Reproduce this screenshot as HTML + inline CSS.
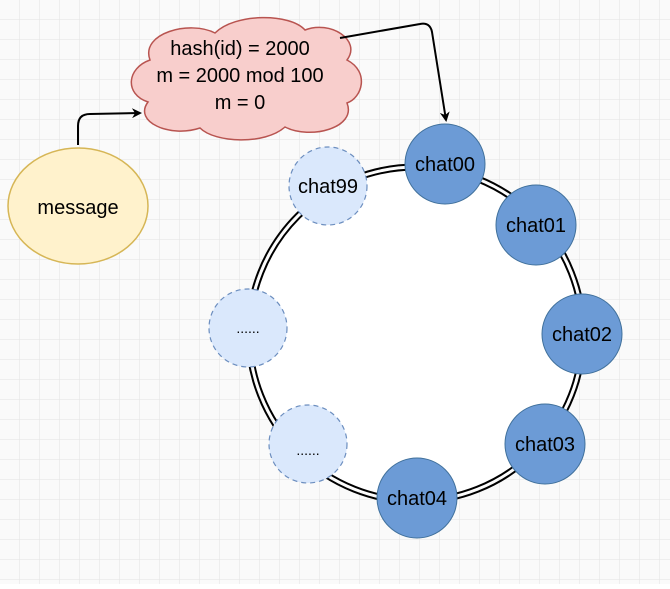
<!DOCTYPE html>
<html><head><style>
html,body{margin:0;padding:0;background:#fff}
svg text{font-family:"Comic Sans MS","Liberation Sans",sans-serif;fill:#000}
</style></head><body>
<svg width="670" height="584" viewBox="0 0 670 584" xmlns="http://www.w3.org/2000/svg">
<defs>
<pattern id="g" width="20" height="20" patternUnits="userSpaceOnUse">
<path d="M20 0V20M0 20H20" stroke="#e3e3e3" stroke-width="1" fill="none"/>
</pattern>
<marker id="a" markerWidth="10" markerHeight="10" refX="8" refY="5" orient="auto" markerUnits="userSpaceOnUse">
<path d="M0,0 L10,5 L0,10 L3,5 Z" fill="#000"/>
</marker>
</defs>
<rect width="670" height="584" fill="#fafafa"/>
<rect width="670" height="584" fill="url(#g)"/>
<!-- ring -->
<circle cx="416" cy="334" r="167" fill="#fff" stroke="none"/>
<circle cx="416" cy="334" r="164.5" fill="none" stroke="#000" stroke-width="2"/>
<circle cx="416" cy="334" r="169.5" fill="none" stroke="#000" stroke-width="2"/>
<!-- cloud -->
<path d="M150,60 C140,33 190,20 215,33 C235,13 290,13 305,30 C330,20 362,40 347,60 C370,72 362,98 347,103 C357,128 310,140 285,127 C265,145 215,143 200,128 C170,138 133,122 148,102 C124,94 127,68 150,60 Z" fill="#f8cecc" stroke="#b85450" stroke-width="1.5"/>
<text x="240" y="55" font-size="20" text-anchor="middle">hash(id) = 2000</text>
<text x="240" y="82" font-size="20" text-anchor="middle">m = 2000 mod 100</text>
<text x="240" y="109" font-size="20" text-anchor="middle">m = 0</text>
<!-- message -->
<ellipse cx="78" cy="206" rx="70" ry="58" fill="#fff2cc" stroke="#d6b656" stroke-width="1.5"/>
<text x="78" y="214" font-size="20" text-anchor="middle">message</text>
<!-- arrows -->
<path d="M78,145 L78,126 Q78,114 90,114 L140,113" fill="none" stroke="#000" stroke-width="2" marker-end="url(#a)"/>
<path d="M340,38 L420,24 Q430,22 432,32 L446,120" fill="none" stroke="#000" stroke-width="2" marker-end="url(#a)"/>
<!-- nodes -->
<g stroke="#6c8ebf" stroke-width="1.2" fill="#dae8fc" stroke-dasharray="5,4">
<circle cx="328" cy="186" r="39"/>
<circle cx="248" cy="328" r="39"/>
<circle cx="308" cy="444" r="39"/>
</g>
<g stroke="#41719c" stroke-width="1" fill="#6c9bd6">
<circle cx="445" cy="164" r="40"/>
<circle cx="536" cy="225" r="40"/>
<circle cx="582" cy="334" r="40"/>
<circle cx="545" cy="444" r="40"/>
<circle cx="417" cy="498" r="40"/>
</g>
<g font-size="20" text-anchor="middle">
<text x="328" y="193">chat99</text>
<text x="445" y="171">chat00</text>
<text x="536" y="232">chat01</text>
<text x="582" y="341">chat02</text>
<text x="545" y="451">chat03</text>
<text x="417" y="505">chat04</text>
<text x="248" y="333" font-size="14">......</text>
<text x="308" y="455" font-size="14">......</text>
</g>
</svg>
</body></html>
